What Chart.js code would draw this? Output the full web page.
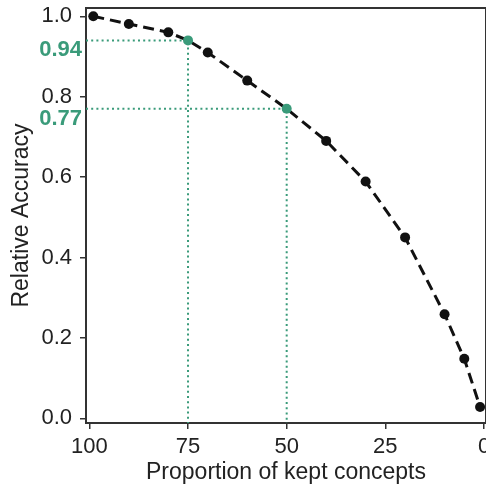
<!DOCTYPE html>
<html lang="en">
<head>
  <meta charset="UTF-8" />
  <title>Relative Accuracy vs kept concepts</title>
  <script src="https://cdn.jsdelivr.net/npm/chart.js"></script>
  <style>
    html,body{margin:0;padding:0;background:#fff;overflow:hidden}
    #wrap{width:486px;height:487px}
  </style>
</head>
<body>
  <div id="wrap"><canvas id="accChart"></canvas></div>

  <script>
  // proportion of kept concepts (%) and relative accuracy
  const kept     = [99, 90, 80, 75, 70, 60, 50, 40, 30, 20, 10, 5, 1];
  const accuracy = [1.0, 0.981, 0.960, 0.94, 0.910, 0.840, 0.77, 0.690, 0.589, 0.450, 0.259, 0.148, 0.028];
  // highlighted operating points
  const markKept = [75, 50];
  const markAcc  = [0.94, 0.77];
  const xTicks = [100, 75, 50, 25, 0];
  const yTicks = [0.0, 0.2, 0.4, 0.6, 0.8, 1.0];

  const X_MIN=-0.5, X_MAX=100.85, Y_MIN=-0.0117, Y_MAX=1.0206;
  const GREEN='#3a9b7a', INK='#111', AXIS='#333';
  const FONT='"Liberation Sans", Arial, sans-serif';

  const pts = kept.map((k,i)=>({x:k,y:accuracy[i]}));
  const ptColors = kept.map(k=>markKept.includes(k)?GREEN:INK);

  // dotted guides: from the left axis to the point, then down to the bottom axis
  const guides = markKept.map((k,i)=>({
    type:'line',data:[{x:X_MAX,y:markAcc[i]},{x:k,y:markAcc[i]},{x:k,y:Y_MIN}],
    borderColor:GREEN,borderWidth:2,borderDash:[2,3.2],pointRadius:0,fill:false,tension:0,order:2
  }));

  const framePlugin={
    id:'frame',
    afterDraw(c){
      const {ctx,chartArea:a,scales:{y}}=c;
      ctx.save();
      ctx.strokeStyle=AXIS; ctx.lineWidth=2;
      ctx.beginPath();
      ctx.moveTo(a.left,a.top); ctx.lineTo(a.right,a.top);
      ctx.lineTo(a.right,a.bottom);
      ctx.stroke();
      // value labels for the highlighted points
      ctx.fillStyle=GREEN;
      ctx.font='bold 22px '+FONT;
      ctx.textAlign='right'; ctx.textBaseline='middle';
      markAcc.forEach(v=>ctx.fillText(v.toFixed(2),a.left-4,y.getPixelForValue(v)+10));
      ctx.restore();
    }
  };

  // fixed axis boxes, no automatic label padding around the plot
  const fitX=s=>{s.height=64;s.paddingLeft=0;s.paddingRight=0;};
  const fitY=s=>{s.width=86;s.paddingTop=0;s.paddingBottom=0;};

  new Chart(document.getElementById('accChart'),{
    type:'line',
    data:{datasets:[
      {data:pts,borderColor:INK,borderWidth:3,borderDash:[11,6],tension:0,fill:false,
       pointRadius:5,pointHoverRadius:5,pointBackgroundColor:ptColors,pointBorderWidth:0,order:1},
      ...guides
    ]},
    options:{
      responsive:true,maintainAspectRatio:false,animation:false,
      layout:{autoPadding:false,padding:{left:0,top:8,right:0,bottom:0}},
      plugins:{legend:{display:false},tooltip:{enabled:false}},
      scales:{
        x:{type:'linear',reverse:true,min:X_MIN,max:X_MAX,
           afterBuildTicks:s=>{s.ticks=xTicks.map(v=>({value:v}));},
           afterFit:fitX,
           ticks:{color:'#222',font:{family:FONT,size:22},padding:5,maxRotation:0,autoSkip:false},
           grid:{drawOnChartArea:false,drawTicks:true,tickLength:6,color:AXIS,lineWidth:1.5},
           border:{color:AXIS,width:2},
           title:{display:true,text:'Proportion of kept concepts',color:'#222',
                  font:{family:FONT,size:23},padding:{top:0,bottom:1}}},
        y:{min:Y_MIN,max:Y_MAX,
           afterBuildTicks:s=>{s.ticks=yTicks.map(v=>({value:v}));},
           afterFit:fitY,
           ticks:{color:'#222',font:{family:FONT,size:22},padding:8,callback:v=>v.toFixed(1)},
           grid:{drawOnChartArea:false,drawTicks:true,tickLength:6,color:AXIS,lineWidth:1.5},
           border:{color:AXIS,width:2},
           title:{display:true,text:'Relative Accuracy',color:'#222',
                  font:{family:FONT,size:23},padding:{top:8,bottom:0}}}
      }
    },
    plugins:[framePlugin]
  });
  </script>
</body>
</html>
